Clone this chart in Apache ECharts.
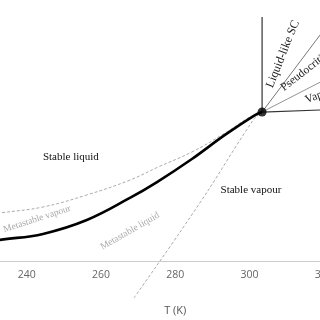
<!DOCTYPE html>
<html>
<head>
<meta charset="utf-8">
<style>html,body{margin:0;padding:0;background:#fff;}#c{width:320px;height:320px;}</style>
<script src="https://cdn.jsdelivr.net/npm/echarts@6/dist/echarts.min.js"></script>
</head>
<body>
<div id="c"></div>
<script>
// Temperature ticks (K)
var xTicks = [220, 240, 260, 280, 300, 320, 340];
// Critical point (T in K, P in MPa)
var critical = [303.4, 7.42];
// Saturation (coexistence) curve
var satT = [228.0, 232.8, 244.4, 256.2, 267.8, 275.1, 284.5, 293.4, 301.5, 303.4];
var satP = [0.90, 1.05, 1.35, 2.04, 3.14, 3.93, 5.08, 6.28, 7.27, 7.42];
// Metastable vapour limit (dashed)
var vapT = [228.0, 232.8, 244.4, 256.2, 267.8, 275.4, 284.5, 293.4, 299.6, 303.4];
var vapP = [2.25, 2.39, 2.69, 3.29, 4.03, 4.68, 5.43, 6.37, 7.12, 7.42];
// Metastable liquid limit (dashed)
var liqT = [268.9, 275.9, 281.3, 288.6, 301.0, 303.4];
var liqP = [-1.84, 0.00, 1.44, 3.44, 7.02, 7.42];
// Supercritical boundaries from the critical point
var vertT = [303.4, 303.4], vertP = [7.42, 12.15];
var upT = [303.4, 322.0], upP = [7.42, 11.99];
var midT = [303.4, 322.0], midP = [7.42, 9.19];
var horT = [303.4, 322.0], horP = [7.42, 7.54];

function zip(a, b) { return a.map(function (v, i) { return [v, b[i]]; }); }

var chart = echarts.init(document.getElementById('c'));
var serif = '"Liberation Serif", "DejaVu Serif", serif';

chart.setOption({
  animation: false,
  grid: { left: -47.6, width: 445.6, top: 0, height: 261, outerBoundsMode: 'none', containLabel: false },
  xAxis: {
    type: 'value', min: xTicks[0], max: xTicks[xTicks.length - 1], interval: 20,
    name: 'T (K)', nameLocation: 'middle', nameGap: 44,
    nameTextStyle: { color: '#555', fontSize: 11, fontFamily: '"Open Sans", sans-serif' },
    axisLine: { onZero: false, lineStyle: { color: '#cccccc', width: 1 } },
    axisTick: { show: false },
    splitLine: { show: false },
    axisLabel: { color: '#666', fontSize: 10.5, margin: 9, fontFamily: '"Open Sans", sans-serif' }
  },
  yAxis: { type: 'value', min: 0, max: 13, show: false, splitLine: { show: false } },
  series: [
    { type: 'line', data: zip(vapT, vapP), smooth: 0.4, symbol: 'none', clip: false, z: 2,
      lineStyle: { color: '#aaaaaa', width: 1, type: [3, 2] } },
    { type: 'line', data: zip(liqT, liqP), smooth: 0.3, symbol: 'none', clip: false, z: 2,
      lineStyle: { color: '#aaaaaa', width: 1, type: [3, 2] } },
    { type: 'line', data: zip(vertT, vertP), symbol: 'none', clip: false, z: 3,
      lineStyle: { color: '#333333', width: 1.2 } },
    { type: 'line', data: zip(upT, upP), symbol: 'none', clip: false, z: 3,
      lineStyle: { color: '#777777', width: 1 } },
    { type: 'line', data: zip(midT, midP), symbol: 'none', clip: false, z: 3,
      lineStyle: { color: '#888888', width: 0.9 } },
    { type: 'line', data: zip(horT, horP), symbol: 'none', clip: false, z: 3,
      lineStyle: { color: '#333333', width: 1.2 } },
    { type: 'line', data: zip(satT, satP), smooth: 0.4, symbol: 'none', clip: false, z: 4,
      lineStyle: { color: '#000000', width: 2.6 } },
    { type: 'scatter', data: [critical], symbol: 'circle', symbolSize: 9, clip: false, z: 5,
      itemStyle: { color: '#000000' } }
  ]
});

// Region annotations anchored in data coordinates
var notes = [
  { t: 'Stable liquid', at: [251.9, 5.18], rot: 0, color: '#111', size: 11, align: 'center' },
  { t: 'Stable vapour', at: [300.4, 3.54], rot: 0, color: '#111', size: 11, align: 'center' },
  { t: 'Metastable vapour', at: [242.8, 2.09], rot: 18, color: '#aaaaaa', size: 9.5, align: 'center' },
  { t: 'Metastable liquid', at: [267.8, 1.49], rot: 30, color: '#aaaaaa', size: 9.5, align: 'center' },
  { t: 'Liquid-like SC', at: [309.0, 10.31], rot: 68, color: '#222', size: 12, align: 'center' },
  { t: 'Pseudocritical', at: [308.8, 8.57], rot: 38, color: '#222', size: 11.5, align: 'left' },
  { t: 'Vapour-like SC', at: [315.1, 8.0], rot: 20, color: '#222', size: 11.5, align: 'left' }
];
var g = notes.map(function (n) {
  var p = chart.convertToPixel({ gridIndex: 0 }, n.at);
  return {
    type: 'text', x: p[0], y: p[1], rotation: n.rot * Math.PI / 180, z: 10,
    style: { text: n.t, fill: n.color, fontSize: n.size, fontFamily: serif,
             align: n.align, verticalAlign: 'middle' }
  };
});
chart.setOption({ graphic: g });
</script>
</body>
</html>
